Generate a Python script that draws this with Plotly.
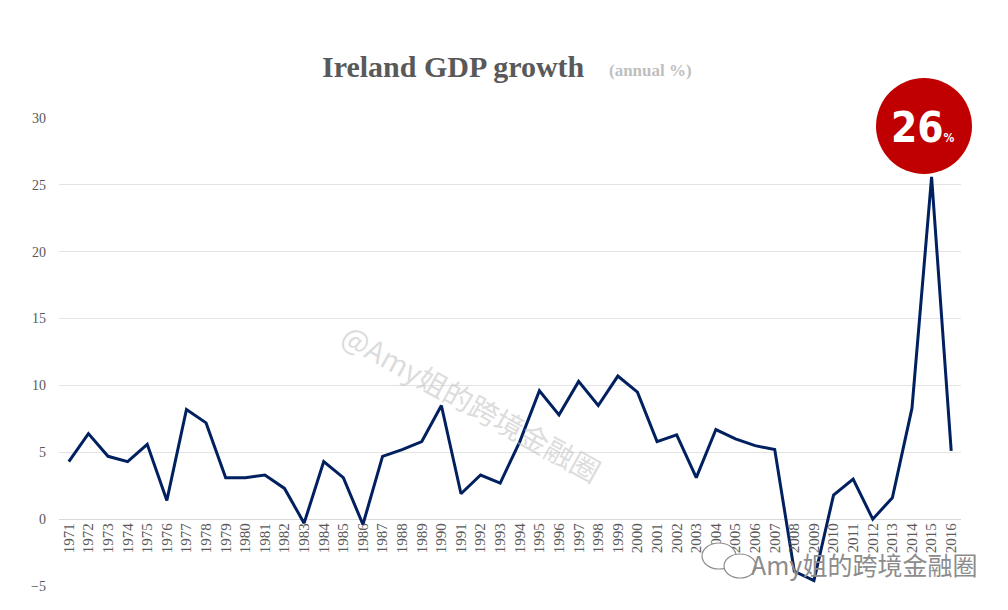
import plotly.graph_objects as go

years = [str(y) for y in range(1971, 2017)]
growth = [4.3, 6.4, 4.7, 4.3, 5.6, 1.4, 8.2, 7.2, 3.1, 3.1,
          3.3, 2.3, -0.3, 4.3, 3.1, -0.4, 4.7, 5.2, 5.8, 8.5,
          1.9, 3.3, 2.7, 5.8, 9.6, 7.8, 10.3, 8.5, 10.7, 9.5,
          5.8, 6.3, 3.1, 6.7, 6.0, 5.5, 5.2, -3.9, -4.6, 1.8,
          3.0, 0.0, 1.6, 8.3, 25.6, 5.1]
y_ticks = [-5, 0, 5, 10, 15, 20, 25, 30]

# page-pixel layout of the plot area (page has an 8px body margin)
OFF = 8
PL, PR, PT, PB = 59, 961, 118, 586
PW, PH = PR - PL, PB - PT


def px(x):
    return (x - PL) / PW


def py(y):
    return (PB - y) / PH


fig = go.Figure()
fig.add_trace(go.Scatter(
    x=years, y=growth, mode="lines",
    line=dict(color="#002060", width=3),
    hoverinfo="x+y", showlegend=False,
))

serif = "Liberation Serif, Times New Roman, serif"
fig.update_layout(
    width=1008, height=610,
    margin=dict(l=PL - OFF, r=1008 + OFF - PR, t=PT - OFF, b=610 + OFF - PB),
    paper_bgcolor="white", plot_bgcolor="white",
    xaxis=dict(
        type="category", range=[-0.5, 45.5],
        showgrid=False, zeroline=False, showline=False,
        tickangle=-90, ticks="",
        tickfont=dict(family=serif, size=15, color="#595959"),
        anchor="free", position=5 / 35,
    ),
    yaxis=dict(
        range=[-5, 30], tickvals=y_ticks,
        showgrid=True, gridcolor="#e3e3e3", gridwidth=1,
        zeroline=True, zerolinecolor="#d9d9d9", zerolinewidth=1,
        showline=False, ticks="",
        tickfont=dict(family=serif, size=14, color="#595959"),
        ticklabelstandoff=12,
    ),
)

# title
fig.add_annotation(text="<b>Ireland GDP growth</b>", xref="paper", yref="paper",
                   x=px(453), y=py(67), showarrow=False, xanchor="center", yanchor="middle",
                   font=dict(family=serif, size=30, color="#595959"))
fig.add_annotation(text="<b>(annual %)</b>", xref="paper", yref="paper",
                   x=px(650), y=py(71), showarrow=False, xanchor="center", yanchor="middle",
                   font=dict(family=serif, size=17, color="#bfbfbf"))

# red badge
fig.add_shape(type="circle", xref="paper", yref="paper",
              xsizemode="pixel", ysizemode="pixel",
              xanchor=px(924), yanchor=py(126),
              x0=-48, x1=48, y0=-48, y1=48,
              fillcolor="#c00000", line=dict(width=0), layer="above")
fig.add_annotation(text="<b>26</b><span style='font-size:12px'><b>%</b></span>",
                   xref="paper", yref="paper", x=px(923), y=py(127),
                   showarrow=False, xanchor="center", yanchor="middle",
                   font=dict(family="DejaVu Sans Condensed, Liberation Sans Narrow, sans-serif",
                             size=42, color="white"))

# watermarks
fig.add_annotation(text="@Amy姐的跨境金融圈", xref="paper", yref="paper",
                   x=px(472), y=py(402), showarrow=False, textangle=29,
                   xanchor="center", yanchor="middle",
                   font=dict(family="Noto Sans CJK SC, sans-serif", size=29,
                             color="rgba(190,190,190,0.55)"))
# small chat-bubble icon
fig.add_shape(type="circle", xref="paper", yref="paper", xsizemode="pixel", ysizemode="pixel",
              xanchor=px(719), yanchor=py(556), x0=-17, x1=17, y0=-13, y1=13,
              fillcolor="white", line=dict(color="#8c8c8c", width=1.2), layer="above")
fig.add_shape(type="circle", xref="paper", yref="paper", xsizemode="pixel", ysizemode="pixel",
              xanchor=px(740), yanchor=py(566), x0=-16, x1=16, y0=-12, y1=12,
              fillcolor="white", line=dict(color="#8c8c8c", width=1.2), layer="above")
fig.add_annotation(text="Amy姐的跨境金融圈", xref="paper", yref="paper",
                   x=px(864), y=py(564), showarrow=False, xanchor="center", yanchor="middle",
                   font=dict(family="Noto Sans CJK SC, sans-serif", size=25, color="#8c8c8c"))

fig.write_html("out.html")
